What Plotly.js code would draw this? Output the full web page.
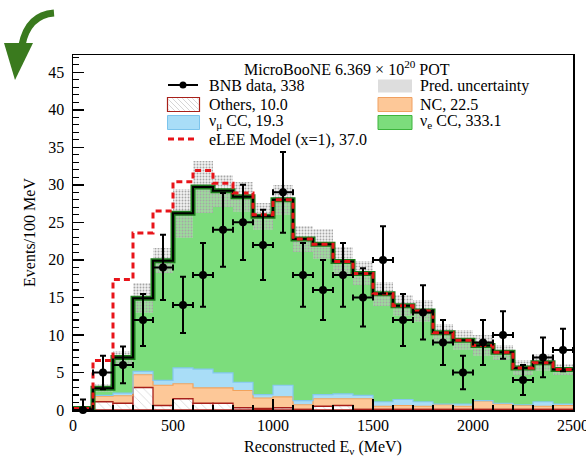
<!DOCTYPE html>
<html><head><meta charset="utf-8">
<script src="https://cdn.plot.ly/plotly-3.0.1.min.js"></script>
<style>html,body{margin:0;padding:0;background:#fff;} #chart{width:586px;height:457px;}</style>
</head><body><div id="chart"></div>
<script>
// ---- data ----
const energy = [50,150,250,350,450,550,650,750,850,950,1050,1150,1250,1350,1450,1550,1650,1750,1850,1950,2050,2150,2250,2350,2450];
const binWidth = 100;
const bnbData = [0,5,6,12,19,14,18,24,25,22,29,18,16,18,15,20,12,13,9,5,9,10,4,7,8];
const zeroCountUpperError = 1.4;
const others = [0.1,1.1,0.9,3.0,0.6,1.5,0.9,0.9,0.3,0.2,0.3,0.1,0.5,0.6,0.1,0.1,0.1,0.1,0.1,0.1,0.1,0.1,0.1,0.1,0.1];
const nc     = [0.1,0.75,1.0,1.7,2.7,2.0,2.05,2.05,2.3,1.4,1.45,0.6,1.0,0.9,1.4,0.4,0.5,0.4,0.6,0.4,1.1,0.7,0.5,0.4,0.5];
const numuCC = [0.0,0.1,0.35,0.45,0.65,2.1,2.5,2.0,1.1,0.45,1.55,0.55,0.55,0.65,0.45,0.6,0.8,0.6,0.1,0.3,0.05,0.1,0.1,0.6,0.2];
const nueCC  = [0.0,0.95,4.75,9.75,15.95,20.6,24.25,24.25,24.7,23.75,24.7,21.55,20.05,17.65,16.25,14.4,12.5,12.1,9.5,8.5,7.35,6.8,4.9,5.2,4.6];
const predUnc = [0.1,0.5,0.9,2.0,1.7,3.3,3.5,2.1,2.0,1.8,2.0,1.7,2.0,1.9,1.6,1.6,1.4,1.5,1.2,1.3,1.4,1.0,1.0,1.1,0.7];
const leeExcess = [0,3.7,10.4,8.7,6.6,4.2,2.2,1.0,0.5,0.2,0,0,0,0,0,0,0,0,0,0,0,0,0,0,0];
const legendTitle = 'MicroBooNE 6.369 × 10<sup>20</sup> POT';
const legendLabels = ['BNB data, 338','Pred. uncertainty','Others, 10.0','NC, 22.5','ν<sub>μ</sub> CC, 19.3','ν<sub>e</sub> CC, 333.1','eLEE Model (x=1), 37.0'];
const xTitle = 'Reconstructed E<sub>ν</sub> (MeV)';
const yTitle = 'Events/100 MeV';

// ---- derived ----
const n = energy.length;
const cumOthers = others.slice();
const cumNC = cumOthers.map((v,i)=>v+nc[i]);
const cumNumu = cumNC.map((v,i)=>v+numuCC[i]);
const total = cumNumu.map((v,i)=>v+nueCC[i]);
const eLEE = total.map((v,i)=>v+leeExcess[i]);
const edges = energy.map(e=>e-binWidth/2).concat([energy[n-1]+binWidth/2]);
const stepY = arr => arr.concat([arr[arr.length-1]]);
const widths = energy.map(()=>binWidth);
const errUp = bnbData.map(v=> v>0 ? Math.sqrt(v) : zeroCountUpperError);
const errDn = bnbData.map(v=> Math.sqrt(v));

const FONT = 'Liberation Serif, Times New Roman, serif';
const C_NUE='#7CDD7C', C_NUMU='#A9DDF7', C_NC='#FDC898';

const traces = [];
function bar(base, h, color, extra){
  return Object.assign({type:'bar', x:energy, y:h, base:base, width:widths,
    marker:{color:color, line:{width:0}}, showlegend:false, hoverinfo:'skip'}, extra||{});
}
traces.push(bar(cumNumu, nueCC, C_NUE));
traces.push(bar(cumNC, numuCC, C_NUMU));
traces.push(bar(cumOthers, nc, C_NC));
traces.push(bar(others.map(()=>0), others, '#ffffff', {marker:{color:'#ffffff',
  line:{width:1.3,color:'#A8201A'}, pattern:{shape:'\\', fgcolor:'#c6c6c6', bgcolor:'#ffffff', size:6, solidity:0.1}}}));
traces.push(bar(total.map((v,i)=>v-predUnc[i]), predUnc.map(u=>2*u), 'rgba(0,0,0,0)', {marker:{color:'rgba(0,0,0,0)',
  line:{width:0}, pattern:{shape:'.', fgcolor:'#a6a6a6', bgcolor:'rgba(215,215,215,0.35)', size:3, solidity:0.3}}}));

function step(arr, color, width, dash){
  return {type:'scatter', mode:'lines', x:edges, y:stepY(arr), line:{shape:'hv', color:color, width:width, dash:dash||'solid'},
    showlegend:false, hoverinfo:'skip'};
}
traces.push(step(cumNC, '#F2A35C', 1.2));
traces.push(step(cumNumu, '#84C8EE', 1.2));
traces.push(step(total, '#1C7A1C', 5));
traces.push(step(total, '#000000', 2));
traces.push(step(eLEE, '#E8141A', 3, '6px,4px'));
traces.push({type:'scatter', mode:'markers', x:energy, y:bnbData, cliponaxis:false,
  marker:{color:'#000', size:8},
  error_y:{type:'data', symmetric:false, array:errUp, arrayminus:errDn, color:'#000', thickness:2, width:3},
  error_x:{type:'data', array:widths.map(w=>w/2), color:'#000', thickness:2, width:3},
  showlegend:false, hoverinfo:'skip'});

// ---- legend drawn as layout decorations (pixel -> paper) ----
const L=73, R=573, T=55, B=410;
const px = x => (x-L)/(R-L);
const py = y => (B-y)/(B-T);
const shapes=[], annotations=[];
function rect(x0,y0,x1,y1,fill,line,lw){
  shapes.push({type:'rect', xref:'paper', yref:'paper', x0:px(x0), x1:px(x1), y0:py(y1), y1:py(y0),
    fillcolor:fill, line:{color:line, width:lw}});
}
function seg(x0,y0,x1,y1,color,w,dash){
  shapes.push({type:'line', xref:'paper', yref:'paper', x0:px(x0), y0:py(y0), x1:px(x1), y1:py(y1),
    line:{color:color, width:w, dash:dash||'solid'}});
}
function txt(x,y,t,anchor){
  annotations.push({xref:'paper', yref:'paper', x:px(x), y:py(y), text:t, showarrow:false,
    xanchor:anchor||'left', yanchor:'middle', font:{family:FONT, size:16, color:'#000'}});
}
txt(346.5, 68.5, legendTitle, 'center');
// row 1
seg(168,85,198,85,'#000',2);
shapes.push({type:'circle', xref:'paper', yref:'paper', x0:px(179.5), x1:px(186.5), y0:py(88.5), y1:py(81.5), fillcolor:'#000', line:{width:0}});
txt(206.5,85.5,legendLabels[0]);
rect(378,79.5,412,92.5,'#DDDDDD','#DDDDDD',0);
txt(418,85.5,legendLabels[1]);
// row 2
(function(){
  const x0=167.5,x1=199.5,y0=97.5,y1=111.5,h=y1-y0;
  rect(x0,y0,x1,y1,'#ffffff','#A8201A',1.2);
  for(let a=x0-h+3; a<x1; a+=5){
    let sx=a, sy=y0, ex=a+h, ey=y1;
    if(sx<x0){ sy=y0+(x0-sx); sx=x0; }
    if(ex>x1){ ey=y1-(ex-x1); ex=x1; }
    if(ex-sx>1.5) seg(sx+0.8,sy+0.8,ex-0.8,ey-0.8,'#c4c4c4',0.7);
  }
})();
txt(206.5,104,legendLabels[2]);
rect(378,97.5,412,111.5,C_NC,'#F0A060',1);
txt(418,104,legendLabels[3]);
// row 3
rect(167.5,115.5,199.5,129.5,C_NUMU,'#7CC4EC',1);
txt(206.5,122,legendLabels[4]);
rect(378,115.5,412,129.5,C_NUE,'#3CB43C',1);
txt(418,122,legendLabels[5]);
// row 4
seg(168,139,198,139,'#E8141A',3,'6px,4px');
txt(206.5,139.5,legendLabels[6]);

// decorative slide arrow (top-left)
function P(x,y){ return px(x).toFixed(4)+','+py(y).toFixed(4); }
shapes.push({type:'path', xref:'paper', yref:'paper', path:'M '+P(54,13)+' Q '+P(28,15)+' '+P(22,45),
  line:{color:'#3A7A1E', width:7}, fillcolor:'rgba(0,0,0,0)'});
shapes.push({type:'path', xref:'paper', yref:'paper', path:'M '+P(4,43)+' L '+P(33,43)+' L '+P(15,80)+' Z',
  line:{color:'#3A7A1E', width:0}, fillcolor:'#3A7A1E'});

const axisCommon = {showgrid:false, zeroline:false, showline:true, linecolor:'#000', linewidth:1.5, mirror:true,
  ticks:'inside', tickcolor:'#000', tickwidth:1.5, ticklen:11, ticklabeloverflow:'allow',
  tickfont:{family:FONT, size:16, color:'#000'}};
const layout = {
  width:586, height:457, margin:{l:73, r:13, t:55, b:47},
  paper_bgcolor:'#fff', plot_bgcolor:'#fff',
  barmode:'overlay', bargap:0, showlegend:false, hovermode:false,
  xaxis:Object.assign({}, axisCommon, {range:[0,2500], tick0:0, dtick:500,
    minor:{dtick:100, ticks:'inside', ticklen:5, tickwidth:1.2, tickcolor:'#000', showgrid:false},
    title:{text:xTitle, font:{family:FONT, size:16, color:'#000'}, standoff:13}}),
  yaxis:Object.assign({}, axisCommon, {range:[0,47.3], tick0:0, dtick:5, ticklabelstandoff:4,
    minor:{dtick:1, ticks:'inside', ticklen:6, tickwidth:1.2, tickcolor:'#000', showgrid:false},
    title:{text:yTitle, font:{family:FONT, size:16, color:'#000'}, standoff:8}}),
  shapes:shapes, annotations:annotations
};
Plotly.newPlot('chart', traces, layout, {staticPlot:true, displayModeBar:false});
</script></body></html>
